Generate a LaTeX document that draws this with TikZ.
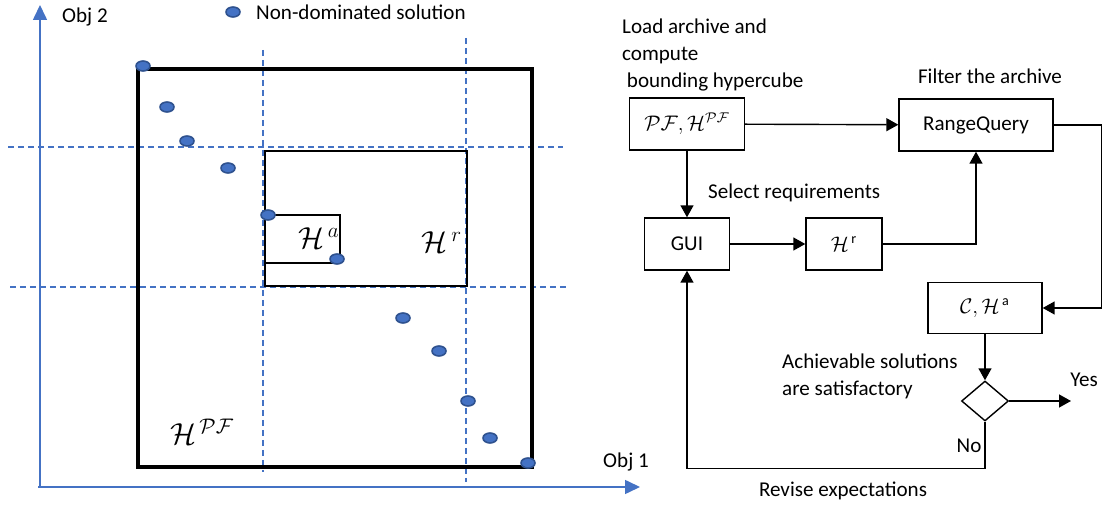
\documentclass[tikz,border=0pt]{standalone}
\usepackage{fontspec}
\setmainfont{Carlito}
\usepackage{tikz}
\usetikzlibrary{calc}
\usetikzlibrary{arrows.meta}
\usetikzlibrary{shapes.geometric}

\definecolor{objblue}{HTML}{4472C4}
\definecolor{dotedge}{HTML}{2F528F}

\begin{document}
\begin{tikzpicture}[x=0.02cm,y=-0.02cm,
		font=\fontsize{12}{15.3}\selectfont,
		flowbox/.style={draw,line width=0.8pt,inner sep=0pt,minimum height=1.04cm},
		arr/.style={line width=0.8pt,-{Triangle[length=0.24cm,width=0.26cm]}},
		axisarr/.style={objblue,line width=0.9pt,-{Triangle[length=0.3cm,width=0.28cm]}},
		cut/.style={objblue,line width=0.9pt,dash pattern=on 0.12cm off 0.08cm}]
		\useasboundingbox (0,0) rectangle (1103,506);
		\def\rx{0.14cm}
		\def\ry{0.1cm}
		% objective space
		\draw [axisarr] (40,488) -- (40,5);
		\draw [axisarr] (38,487) -- (640,487);
		\node [anchor=west] (obj2) at (56,17) {Obj 2};
		\node (obj1) at (626,462) {Obj 1};
		\draw [cut] (8,147) -- (563,147)
			  (10,287) -- (567,287)
			  (263,50) -- (263,472)
			  (466,38) -- (466,482);
		\draw [line width=1.8pt] (138,69) rectangle (532,467);
		\draw [line width=1.7pt] (265,151) rectangle (467,286);
		\draw [line width=1.5pt] (265,215) rectangle (340,263);
		\filldraw [fill=objblue,draw=dotedge,line width=0.9pt]
			  (143,66) ellipse [x radius=\rx,y radius=\ry]
			  (167,107) ellipse [x radius=\rx,y radius=\ry]
			  (187,141) ellipse [x radius=\rx,y radius=\ry]
			  (228,168) ellipse [x radius=\rx,y radius=\ry]
			  (268,215) ellipse [x radius=\rx,y radius=\ry]
			  (337,259) ellipse [x radius=\rx,y radius=\ry]
			  (403,318) ellipse [x radius=\rx,y radius=\ry]
			  (439,351) ellipse [x radius=\rx,y radius=\ry]
			  (468,401) ellipse [x radius=\rx,y radius=\ry]
			  (490,438) ellipse [x radius=\rx,y radius=\ry]
			  (528,463) ellipse [x radius=\rx,y radius=\ry]
			  (233,12) ellipse [x radius=\rx,y radius=\ry];
		\node [anchor=west] (legend) at (250,12) {Non-dominated solution};
		\node (hpf) at (202,432) {\LARGE $\mathcal{H}^{\,\mathcal{PF}}$};
		\node (ha) at (319,238) {\LARGE $\mathcal{H}^{\,a}$};
		\node (hr) at (442,242) {\LARGE $\mathcal{H}^{\,r}$};
		% workflow
		\node [anchor=west,align=left] (loadlbl) at (616,55) {Load archive and\\compute\\ \ bounding hypercube};
		\node (filterlbl) at (990,76) {Filter the archive};
		\node [anchor=west] (selectlbl) at (702,193) {Select requirements};
		\node [anchor=west,align=left] (achlbl) at (776,376) {Achievable solutions\\are satisfactory};
		\node (revlbl) at (843,491) {Revise expectations};
		\node [flowbox,minimum width=2.3cm] (pf) at (687,124) {$\mathcal{PF},\mathcal{H}^{\mathcal{PF}}$};
		\node [flowbox,minimum width=3.08cm] (rq) at (976,125) {RangeQuery};
		\node [flowbox,minimum width=1.7cm] (gui) at (687,244) {GUI};
		\node [flowbox,minimum width=1.52cm] (hreq) at (844,244) {$\mathcal{H}^{\,\mathrm{r}}$};
		\node [flowbox,minimum width=2.28cm,minimum height=1.02cm] (cha) at (985,308) {$\mathcal{C},\mathcal{H}^{\,\mathrm{a}}$};
		\node [diamond,draw,line width=0.8pt,inner sep=0pt,minimum width=0.94cm,minimum height=0.8cm] (dec) at (985,401) {};
		\coordinate (yesend) at (1071,401);
		\node (yes) at (1084,380) {Yes};
		\node (no) at (969,446) {No};
		\draw [arr] (pf) -- (rq);
		\draw [arr] (pf) -- (gui);
		\draw [arr] (gui) -- (hreq);
		\draw [arr] (hreq.east) -| (rq.south);
		\draw [arr] (rq.east) -- ++(48,0) |- (cha.east);
		\draw [arr] (cha) -- (dec);
		\draw [arr] (dec.east) -- (yesend);
		\draw [arr] (dec.south) -- ++(0,47) -| (gui.south);
	\end{tikzpicture}
\end{document}
